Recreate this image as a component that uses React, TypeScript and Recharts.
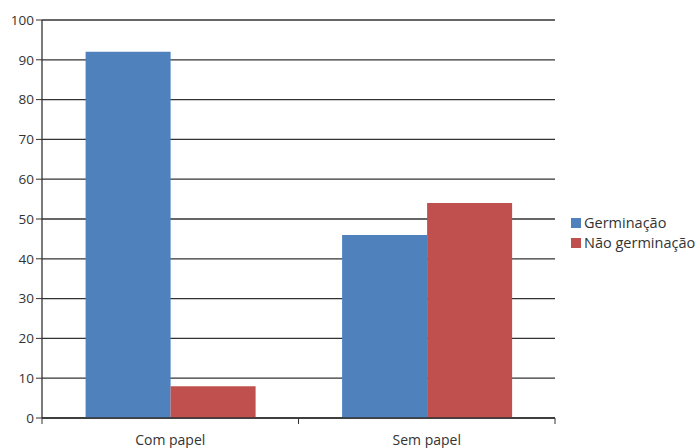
import React from 'react';
import { BarChart, Bar, XAxis, YAxis, CartesianGrid } from 'recharts';

const categories = ['Com papel', 'Sem papel'];
const germinacao = [92, 46];
const naoGerminacao = [8, 54];
const yTicks = [0, 10, 20, 30, 40, 50, 60, 70, 80, 90, 100];

const seriesInfo = [
  { key: 'germinacao', name: 'Germinação', color: '#4F81BD' },
  { key: 'naoGerminacao', name: 'Não germinação', color: '#C0504D' },
];

const data = categories.map((c, i) => ({
  categoria: c,
  germinacao: germinacao[i],
  naoGerminacao: naoGerminacao[i],
}));

const W = 700;
const H = 448;
const M = { top: 20, right: 145, bottom: 0, left: 0 };
const Y_W = 42;
const X_H = 30;
const FONT = '"Open Sans", "DejaVu Sans", sans-serif';
const TEXT = '#333';

// half of one category band, used to put tick marks on band edges
const halfBand = (W - M.left - M.right - Y_W) / categories.length / 2;

const CategoryTick = (props: any) => {
  const { x, y, payload, index } = props;
  return (
    <g>
      {index === 0 && <line x1={x - halfBand} x2={x - halfBand} y1={y - 8} y2={y - 2} stroke="#333" />}
      <line x1={x + halfBand} x2={x + halfBand} y1={y - 8} y2={y - 2} stroke="#333" />
      <text x={x} y={y + 19} textAnchor="middle" fill={TEXT} fontSize={14} fontFamily={FONT}>
        {payload.value}
      </text>
    </g>
  );
};

const LegendBox = () => (
  <div
    style={{
      position: 'absolute',
      left: 571,
      top: 213,
      fontFamily: FONT,
      fontSize: 14.5,
      color: TEXT,
      lineHeight: '20px',
    }}
  >
    {seriesInfo.map((s) => (
      <div key={s.key} style={{ display: 'flex', alignItems: 'center' }}>
        <span style={{ display: 'inline-block', width: 10, height: 10, background: s.color, marginRight: 3 }} />
        <span>{s.name}</span>
      </div>
    ))}
  </div>
);

export default function App() {
  return (
    <div style={{ position: 'absolute', left: 0, top: 0, width: W, height: H, background: '#fff', overflow: 'hidden' }}>
      <BarChart width={W} height={H} data={data} margin={M} barCategoryGap="17%" barGap={0}>
        <CartesianGrid yAxisId="left" vertical={false} stroke="#333" strokeWidth={1.3} />
        <XAxis
          dataKey="categoria"
          height={X_H}
          axisLine={{ stroke: '#333', strokeWidth: 1.3 }}
          tickLine={false}
          tick={<CategoryTick />}
          interval={0}
        />
        <YAxis
          yAxisId="left"
          width={Y_W}
          domain={[0, 100]}
          ticks={yTicks}
          interval={0}
          axisLine={{ stroke: '#333', strokeWidth: 1.3 }}
          tickLine={{ stroke: '#333' }}
          tickSize={6}
          tick={{ fill: TEXT, fontSize: 13.5, fontFamily: FONT }}
        />
        <YAxis
          yAxisId="right"
          orientation="right"
          width={0}
          domain={[0, 100]}
          tick={false}
          tickLine={false}
          axisLine={{ stroke: '#c8c8c8' }}
        />
        {seriesInfo.map((s) => (
          <Bar
            key={s.key}
            yAxisId="left"
            dataKey={s.key}
            name={s.name}
            fill={s.color}
            isAnimationActive={false}
          />
        ))}
      </BarChart>
      <LegendBox />
    </div>
  );
}
